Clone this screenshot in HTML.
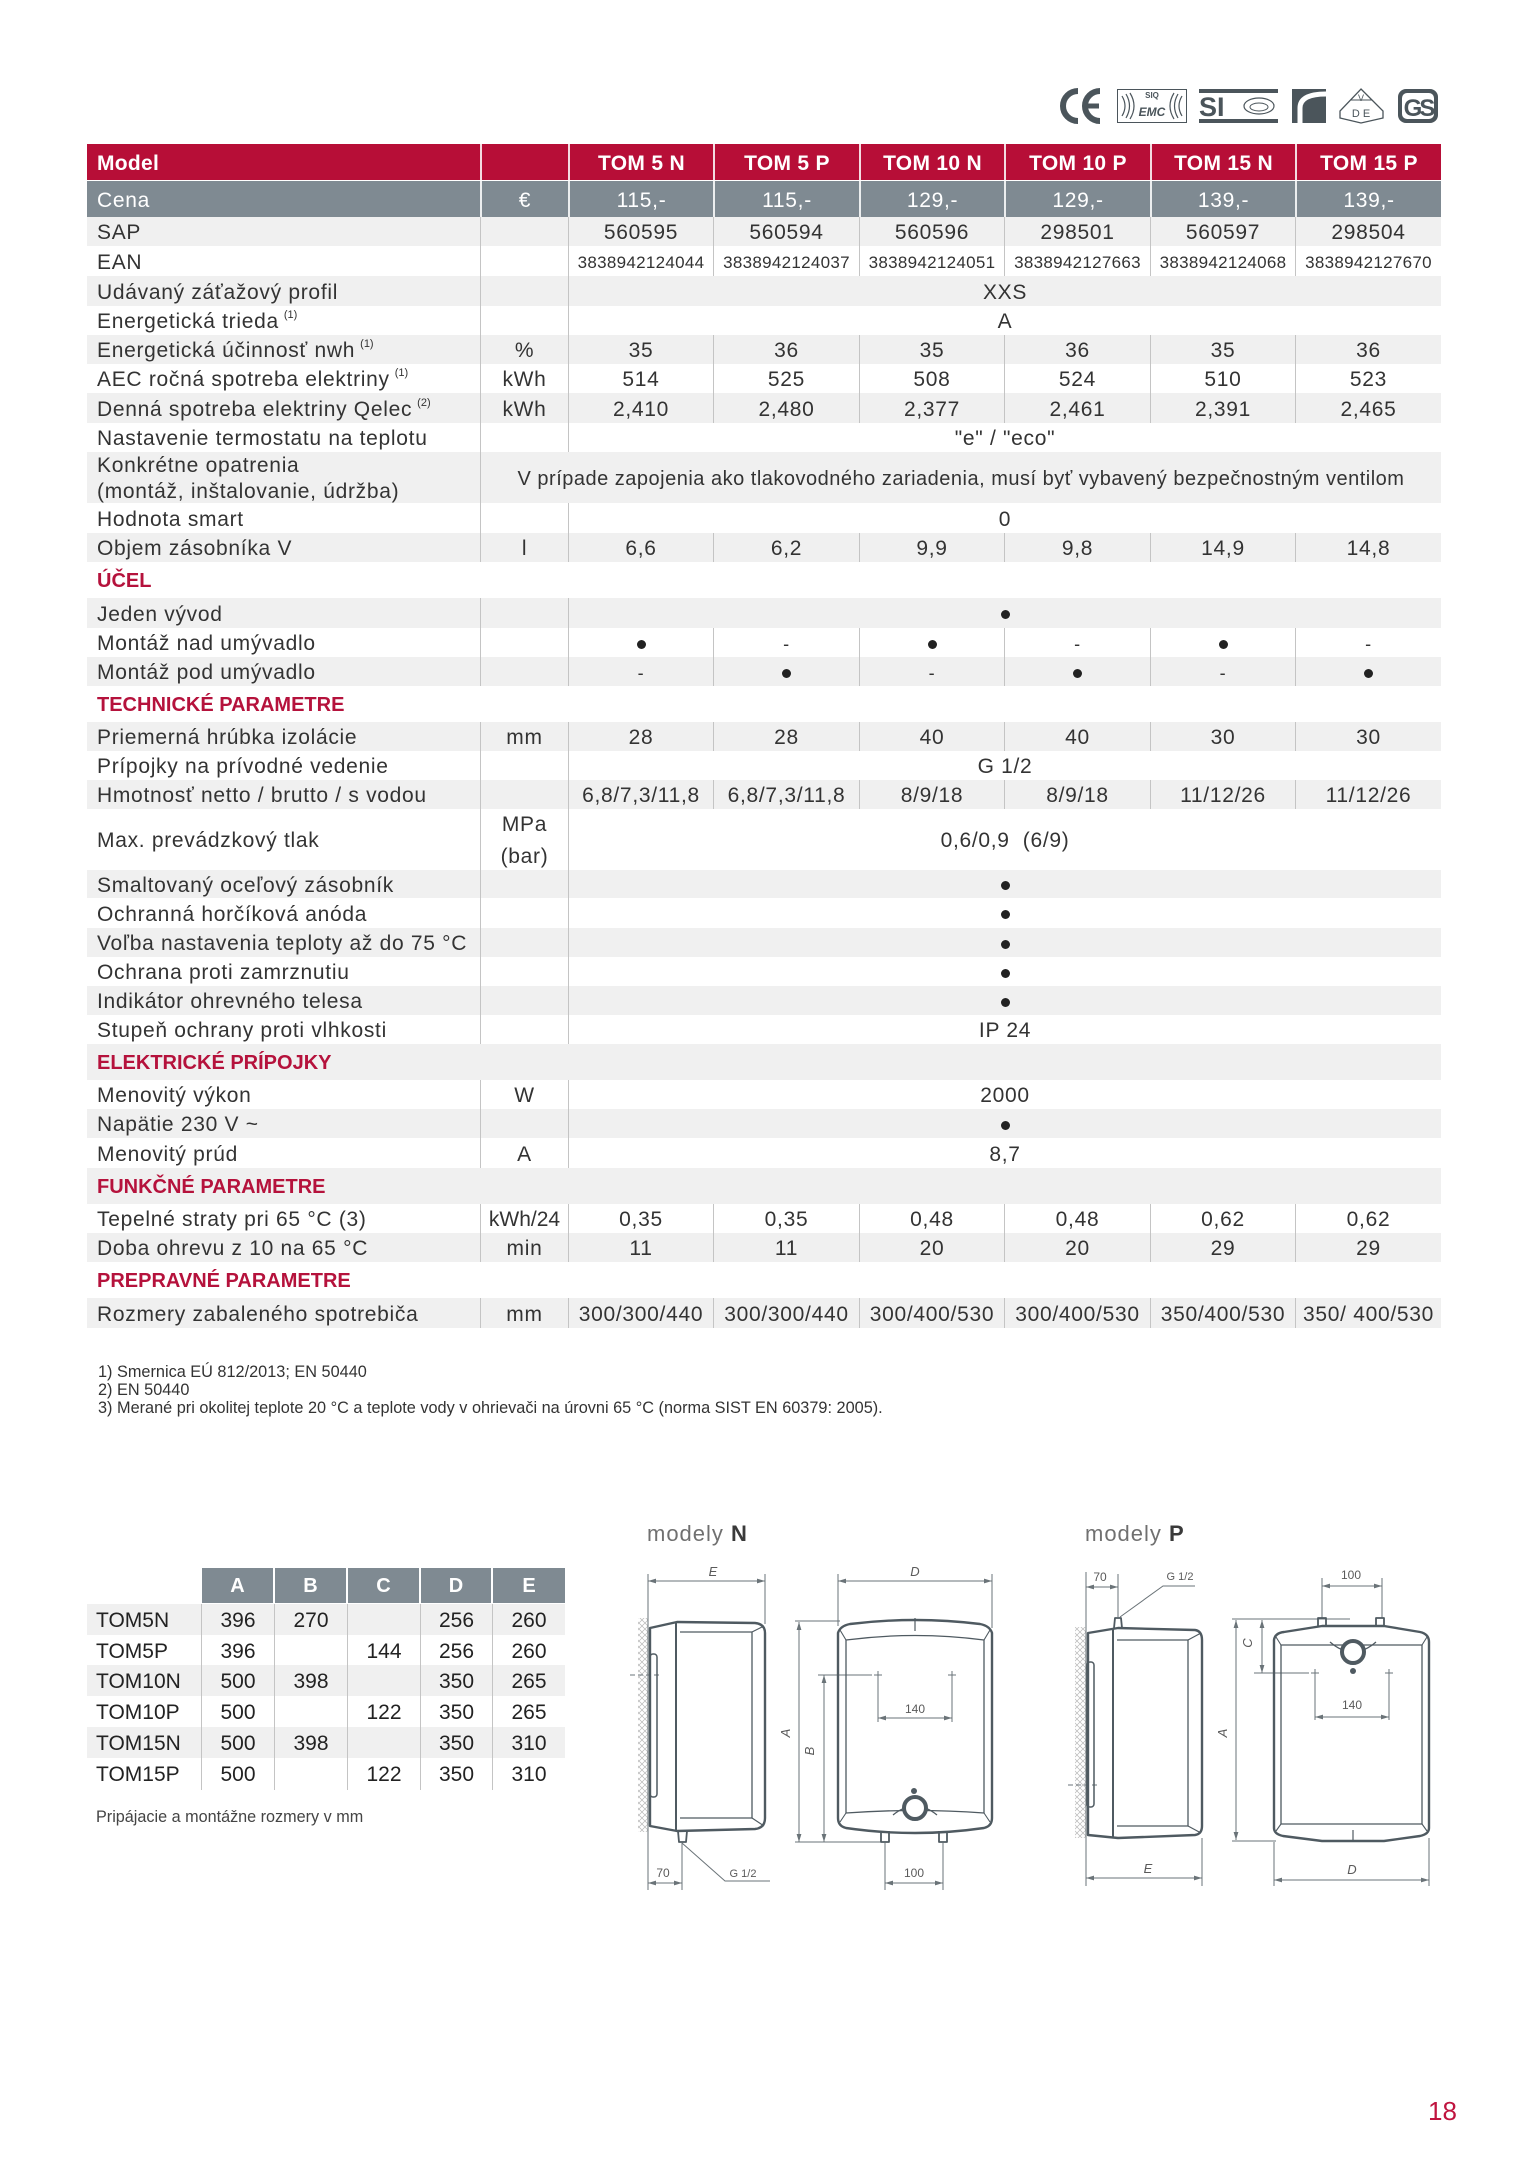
<!DOCTYPE html>
<html><head><meta charset="utf-8">
<style>
*{box-sizing:border-box;margin:0;padding:0}
body{width:1529px;height:2160px;background:#fff;position:relative;overflow:hidden;font-family:"Liberation Sans",sans-serif;color:#333}
.row{position:absolute;left:87px;width:1354px;font-size:21px;letter-spacing:.7px}
.g{background:#f0f0f0}
.row>span{position:absolute;top:0;height:100%;display:flex;align-items:center;justify-content:center;text-align:center;white-space:nowrap;padding-top:3px}
.row>.lb{left:10px;justify-content:flex-start;text-align:left}
.u{left:393px;width:88px}
.c1{left:481px;width:145px}.c2{left:626px;width:146px}.c3{left:772px;width:145px}.c4{left:917px;width:146px}.c5{left:1063px;width:145px}.c6{left:1208px;width:146px}
.sp{left:481px;width:873px}
.bl{border-left:1px solid #c4c4c4}
.hd{background:#b70e37;color:#fff;font-weight:bold;letter-spacing:.3px}
.hd>span.w,.ce>span.w{border-left:2px solid rgba(255,255,255,.85)}
.ce{background:#7f8a92;color:#fff}
.sec>span{color:#b5123c;font-weight:bold;font-size:20px;letter-spacing:0}
.s{font-size:11px;position:relative;top:-7px;margin-left:5px;letter-spacing:0}
.ean{font-size:17px;letter-spacing:.3px}
.dot{display:inline-block;width:9px;height:9px;border-radius:50%;background:#222}
.ds{font-size:18px}
.two{line-height:26px}
.dh{position:absolute;top:1568px;height:35px;background:#7f8a92;color:#fff;font-weight:bold;font-size:20px;display:flex;align-items:center;justify-content:center;padding-top:2px}
.dr{position:absolute;left:87px;width:478px;height:31px}
.dc{position:absolute;height:31px;display:flex;align-items:center;justify-content:center;font-size:21px;color:#222;padding-top:2px}
</style></head><body>

<!-- header -->
<div class="row hd" style="top:144px;height:36px"><span class="lb">Model</span><span class="u w"></span><span class="c1 w">TOM 5 N</span><span class="c2 w">TOM 5 P</span><span class="c3 w">TOM 10 N</span><span class="c4 w">TOM 10 P</span><span class="c5 w">TOM 15 N</span><span class="c6 w">TOM 15 P</span></div>
<div class="row ce" style="top:181px;height:36px"><span class="lb">Cena</span><span class="u w">€</span><span class="c1 w">115,-</span><span class="c2 w">115,-</span><span class="c3 w">129,-</span><span class="c4 w">129,-</span><span class="c5 w">139,-</span><span class="c6 w">139,-</span></div>

<div class="row g" style="top:217px;height:29px"><span class="lb">SAP</span><span class="u bl"></span><span class="c1 bl">560595</span><span class="c2 bl">560594</span><span class="c3 bl">560596</span><span class="c4 bl">298501</span><span class="c5 bl">560597</span><span class="c6 bl">298504</span></div>
<div class="row" style="top:246px;height:30px"><span class="lb">EAN</span><span class="u bl"></span><span class="c1 bl ean">3838942124044</span><span class="c2 bl ean">3838942124037</span><span class="c3 bl ean">3838942124051</span><span class="c4 bl ean">3838942127663</span><span class="c5 bl ean">3838942124068</span><span class="c6 bl ean">3838942127670</span></div>
<div class="row g" style="top:276px;height:30px"><span class="lb">Udávaný záťažový profil</span><span class="u bl"></span><span class="sp bl">XXS</span></div>
<div class="row" style="top:306px;height:29px"><span class="lb">Energetická trieda<span class="s">(1)</span></span><span class="u bl"></span><span class="sp bl">A</span></div>
<div class="row g" style="top:335px;height:29px"><span class="lb">Energetická účinnosť nwh<span class="s">(1)</span></span><span class="u bl">%</span><span class="c1 bl">35</span><span class="c2 bl">36</span><span class="c3 bl">35</span><span class="c4 bl">36</span><span class="c5 bl">35</span><span class="c6 bl">36</span></div>
<div class="row" style="top:364px;height:29px"><span class="lb">AEC ročná spotreba elektriny<span class="s">(1)</span></span><span class="u bl">kWh</span><span class="c1 bl">514</span><span class="c2 bl">525</span><span class="c3 bl">508</span><span class="c4 bl">524</span><span class="c5 bl">510</span><span class="c6 bl">523</span></div>
<div class="row g" style="top:393px;height:30px"><span class="lb">Denná spotreba elektriny Qelec<span class="s">(2)</span></span><span class="u bl">kWh</span><span class="c1 bl">2,410</span><span class="c2 bl">2,480</span><span class="c3 bl">2,377</span><span class="c4 bl">2,461</span><span class="c5 bl">2,391</span><span class="c6 bl">2,465</span></div>
<div class="row" style="top:423px;height:29px"><span class="lb">Nastavenie termostatu na teplotu</span><span class="u bl"></span><span class="sp bl">"e" / "eco"</span></div>
<div class="row g" style="top:452px;height:51px"><span class="lb two">Konkrétne opatrenia<br>(montáž, inštalovanie, údržba)</span><span class="bl" style="left:393px;width:961px;font-size:20px;letter-spacing:.5px">V prípade zapojenia ako tlakovodného zariadenia, musí byť vybavený bezpečnostným ventilom</span></div>
<div class="row" style="top:503px;height:30px"><span class="lb">Hodnota smart</span><span class="u bl"></span><span class="sp bl">0</span></div>
<div class="row g" style="top:533px;height:29px"><span class="lb">Objem zásobníka V</span><span class="u bl">l</span><span class="c1 bl">6,6</span><span class="c2 bl">6,2</span><span class="c3 bl">9,9</span><span class="c4 bl">9,8</span><span class="c5 bl">14,9</span><span class="c6 bl">14,8</span></div>
<div class="row sec" style="top:562px;height:36px"><span class="lb">ÚČEL</span></div>
<div class="row g" style="top:598px;height:30px"><span class="lb">Jeden vývod</span><span class="u bl"></span><span class="sp bl"><i class="dot"></i></span></div>
<div class="row" style="top:628px;height:29px"><span class="lb">Montáž nad umývadlo</span><span class="u bl"></span><span class="c1 bl"><i class="dot"></i></span><span class="c2 bl ds">-</span><span class="c3 bl"><i class="dot"></i></span><span class="c4 bl ds">-</span><span class="c5 bl"><i class="dot"></i></span><span class="c6 bl ds">-</span></div>
<div class="row g" style="top:657px;height:29px"><span class="lb">Montáž pod umývadlo</span><span class="u bl"></span><span class="c1 bl ds">-</span><span class="c2 bl"><i class="dot"></i></span><span class="c3 bl ds">-</span><span class="c4 bl"><i class="dot"></i></span><span class="c5 bl ds">-</span><span class="c6 bl"><i class="dot"></i></span></div>
<div class="row sec" style="top:686px;height:36px"><span class="lb">TECHNICKÉ PARAMETRE</span></div>
<div class="row g" style="top:722px;height:29px"><span class="lb">Priemerná hrúbka izolácie</span><span class="u bl">mm</span><span class="c1 bl">28</span><span class="c2 bl">28</span><span class="c3 bl">40</span><span class="c4 bl">40</span><span class="c5 bl">30</span><span class="c6 bl">30</span></div>
<div class="row" style="top:751px;height:29px"><span class="lb">Prípojky na prívodné vedenie</span><span class="u bl"></span><span class="sp bl">G 1/2</span></div>
<div class="row g" style="top:780px;height:29px"><span class="lb">Hmotnosť netto / brutto / s vodou</span><span class="u bl"></span><span class="c1 bl">6,8/7,3/11,8</span><span class="c2 bl">6,8/7,3/11,8</span><span class="c3 bl">8/9/18</span><span class="c4 bl">8/9/18</span><span class="c5 bl">11/12/26</span><span class="c6 bl">11/12/26</span></div>
<div class="row" style="top:809px;height:61px"><span class="lb">Max. prevádzkový tlak</span><span class="u bl" style="line-height:32px">MPa<br>(bar)</span><span class="sp bl">0,6/0,9&nbsp;&nbsp;(6/9)</span></div>
<div class="row g" style="top:870px;height:28px"><span class="lb">Smaltovaný oceľový zásobník</span><span class="u bl"></span><span class="sp bl"><i class="dot"></i></span></div>
<div class="row" style="top:898px;height:30px"><span class="lb">Ochranná horčíková anóda</span><span class="u bl"></span><span class="sp bl"><i class="dot"></i></span></div>
<div class="row g" style="top:928px;height:29px"><span class="lb">Voľba nastavenia teploty až do 75 °C</span><span class="u bl"></span><span class="sp bl"><i class="dot"></i></span></div>
<div class="row" style="top:957px;height:29px"><span class="lb">Ochrana proti zamrznutiu</span><span class="u bl"></span><span class="sp bl"><i class="dot"></i></span></div>
<div class="row g" style="top:986px;height:29px"><span class="lb">Indikátor ohrevného telesa</span><span class="u bl"></span><span class="sp bl"><i class="dot"></i></span></div>
<div class="row" style="top:1015px;height:29px"><span class="lb">Stupeň ochrany proti vlhkosti</span><span class="u bl"></span><span class="sp bl">IP 24</span></div>
<div class="row sec g" style="top:1044px;height:36px"><span class="lb">ELEKTRICKÉ PRÍPOJKY</span></div>
<div class="row" style="top:1080px;height:29px"><span class="lb">Menovitý výkon</span><span class="u bl">W</span><span class="sp bl">2000</span></div>
<div class="row g" style="top:1109px;height:29px"><span class="lb">Napätie 230 V ~</span><span class="u bl"></span><span class="sp bl"><i class="dot"></i></span></div>
<div class="row" style="top:1138px;height:30px"><span class="lb">Menovitý prúd</span><span class="u bl">A</span><span class="sp bl">8,7</span></div>
<div class="row sec g" style="top:1168px;height:36px"><span class="lb">FUNKČNÉ PARAMETRE</span></div>
<div class="row" style="top:1204px;height:29px"><span class="lb">Tepelné straty pri 65 °C (3)</span><span class="u bl" style="letter-spacing:0">kWh/24</span><span class="c1 bl">0,35</span><span class="c2 bl">0,35</span><span class="c3 bl">0,48</span><span class="c4 bl">0,48</span><span class="c5 bl">0,62</span><span class="c6 bl">0,62</span></div>
<div class="row g" style="top:1233px;height:29px"><span class="lb">Doba ohrevu z 10 na 65 °C</span><span class="u bl">min</span><span class="c1 bl">11</span><span class="c2 bl">11</span><span class="c3 bl">20</span><span class="c4 bl">20</span><span class="c5 bl">29</span><span class="c6 bl">29</span></div>
<div class="row sec" style="top:1262px;height:36px"><span class="lb">PREPRAVNÉ PARAMETRE</span></div>
<div class="row g" style="top:1298px;height:30px"><span class="lb">Rozmery zabaleného spotrebiča</span><span class="u bl">mm</span><span class="c1 bl">300/300/440</span><span class="c2 bl">300/300/440</span><span class="c3 bl">300/400/530</span><span class="c4 bl">300/400/530</span><span class="c5 bl">350/400/530</span><span class="c6 bl">350/ 400/530</span></div>

<!-- footnotes -->
<div style="position:absolute;left:98px;top:1363px;font-size:16.3px;line-height:18px;color:#333">1) Smernica EÚ 812/2013; EN 50440<br>2) EN 50440<br>3) Merané pri okolitej teplote 20 °C a teplote vody v ohrievači na úrovni 65 °C (norma SIST EN 60379: 2005).</div>

<!-- dimension table -->
<div class="dh" style="left:202px;width:71px">A</div>
<div class="dh" style="left:275px;width:71px">B</div>
<div class="dh" style="left:348px;width:71px">C</div>
<div class="dh" style="left:421px;width:70px">D</div>
<div class="dh" style="left:493px;width:72px">E</div>
<div class="dr" style="top:1604px;background:#f0f0f0"></div>
<div class="dr" style="top:1665px;background:#f0f0f0"></div>
<div class="dr" style="top:1727px;background:#f0f0f0"></div>
<div style="position:absolute;left:201px;top:1604px;width:1px;height:186px;background:#c4c4c4"></div>
<div style="position:absolute;left:274px;top:1604px;width:1px;height:186px;background:#c4c4c4"></div>
<div style="position:absolute;left:347px;top:1604px;width:1px;height:186px;background:#c4c4c4"></div>
<div style="position:absolute;left:420px;top:1604px;width:1px;height:186px;background:#c4c4c4"></div>
<div style="position:absolute;left:492px;top:1604px;width:1px;height:186px;background:#c4c4c4"></div>

<div class="dc" style="left:96px;top:1604px;justify-content:flex-start">TOM5N</div>
<div class="dc" style="left:202px;top:1604px;width:72px">396</div><div class="dc" style="left:275px;top:1604px;width:72px">270</div><div class="dc" style="left:421px;top:1604px;width:71px">256</div><div class="dc" style="left:493px;top:1604px;width:72px">260</div>
<div class="dc" style="left:96px;top:1635px;justify-content:flex-start">TOM5P</div>
<div class="dc" style="left:202px;top:1635px;width:72px">396</div><div class="dc" style="left:348px;top:1635px;width:72px">144</div><div class="dc" style="left:421px;top:1635px;width:71px">256</div><div class="dc" style="left:493px;top:1635px;width:72px">260</div>
<div class="dc" style="left:96px;top:1665px;justify-content:flex-start">TOM10N</div>
<div class="dc" style="left:202px;top:1665px;width:72px">500</div><div class="dc" style="left:275px;top:1665px;width:72px">398</div><div class="dc" style="left:421px;top:1665px;width:71px">350</div><div class="dc" style="left:493px;top:1665px;width:72px">265</div>
<div class="dc" style="left:96px;top:1696px;justify-content:flex-start">TOM10P</div>
<div class="dc" style="left:202px;top:1696px;width:72px">500</div><div class="dc" style="left:348px;top:1696px;width:72px">122</div><div class="dc" style="left:421px;top:1696px;width:71px">350</div><div class="dc" style="left:493px;top:1696px;width:72px">265</div>
<div class="dc" style="left:96px;top:1727px;justify-content:flex-start">TOM15N</div>
<div class="dc" style="left:202px;top:1727px;width:72px">500</div><div class="dc" style="left:275px;top:1727px;width:72px">398</div><div class="dc" style="left:421px;top:1727px;width:71px">350</div><div class="dc" style="left:493px;top:1727px;width:72px">310</div>
<div class="dc" style="left:96px;top:1758px;justify-content:flex-start">TOM15P</div>
<div class="dc" style="left:202px;top:1758px;width:72px">500</div><div class="dc" style="left:348px;top:1758px;width:72px">122</div><div class="dc" style="left:421px;top:1758px;width:71px">350</div><div class="dc" style="left:493px;top:1758px;width:72px">310</div>

<div style="position:absolute;left:96px;top:1807px;font-size:16.2px;line-height:20px;color:#444">Pripájacie a montážne rozmery v mm</div>

<div style="position:absolute;left:1428px;top:2096px;font-size:26px;line-height:30px;color:#c0143f">18</div>

<svg style="position:absolute;left:0;top:0" width="1529" height="2160" viewBox="0 0 1529 2160" xmlns="http://www.w3.org/2000/svg">
<defs>
<marker id="ar" viewBox="0 0 10 10" refX="10" refY="5" markerWidth="8" markerHeight="8" orient="auto-start-reverse"><path d="M0,2 L10,5 L0,8z" fill="#6a7378"/></marker>
<pattern id="h" width="6" height="6" patternUnits="userSpaceOnUse"><path d="M0,0 L6,6 M6,0 L0,6" stroke="#b8b8b8" stroke-width=".7"/></pattern>
</defs>

<!-- logos -->
<g fill="none" stroke="#4b555b">
<path d="M1078,91 A15,15 0 0 0 1078,121" stroke-width="6"/>
<path d="M1100,91 A15,15 0 0 0 1100,121" stroke-width="6"/>
<path d="M1088,106 L1099,106" stroke-width="5"/>
<rect x="1117.5" y="89.5" width="69" height="33" stroke-width="1"/>
<path d="M1122,96 Q1128,106 1122,116 M1126,94 Q1133,106 1126,118 M1130,93 Q1138,106 1130,119" stroke-width="1.2"/>
<path d="M1182,96 Q1176,106 1182,116 M1178,94 Q1171,106 1178,118 M1174,93 Q1166,106 1174,119" stroke-width="1.2"/>
<ellipse cx="1259" cy="106" rx="15" ry="8" stroke-width="1.2"/>
<ellipse cx="1259" cy="107" rx="9" ry="4" stroke-width="1"/>
<path d="M1361,89 L1383,111 L1383,118 L1361,123 L1340,118 L1340,111 Z" stroke-width="1.3"/>
<path d="M1350,100 L1372,100" stroke-width="1"/>
</g>
<g fill="#4b555b">
<text x="1152" y="98" font-size="8" font-weight="bold" text-anchor="middle" font-family="Liberation Sans">SIQ</text>
<text x="1152" y="116" font-size="12" font-weight="bold" font-style="italic" text-anchor="middle" font-family="Liberation Sans">EMC</text>
<rect x="1199" y="89" width="79" height="4"/>
<rect x="1199" y="119" width="79" height="4"/>
<text x="1199" y="116" font-size="27" font-weight="bold" font-family="Liberation Sans">SI</text>
<rect x="1292" y="89" width="34" height="34"/>
<text x="1361" y="101" font-size="9" text-anchor="middle" font-family="Liberation Sans">V</text>
<text x="1361" y="117" font-size="11" text-anchor="middle" font-family="Liberation Sans">D E</text>
<rect x="1398" y="89" width="40" height="34" rx="8"/>
<rect x="1402" y="93" width="32" height="26" rx="5" fill="#fff"/>
<text x="1418" y="116" font-size="24" font-weight="bold" text-anchor="middle" font-family="Liberation Sans" letter-spacing="-3">GS</text>
</g>
<path d="M1300,123 L1300,108 Q1300,94 1326,94" fill="none" stroke="#fff" stroke-width="5"/>

<!-- modely labels -->
<text x="647" y="1541" font-size="22" fill="#707070" font-family="Liberation Sans" letter-spacing="1">modely <tspan font-weight="bold" fill="#3a3a3a">N</tspan></text>
<text x="1085" y="1541" font-size="22" fill="#707070" font-family="Liberation Sans" letter-spacing="1">modely <tspan font-weight="bold" fill="#3a3a3a">P</tspan></text>

<!-- ===== Model N ===== -->
<rect x="638" y="1618" width="10" height="214" fill="url(#h)"/>
<g fill="none" stroke="#6a7378" stroke-width="1">
<line x1="648" y1="1574" x2="648" y2="1890"/>
<line x1="765" y1="1574" x2="765" y2="1624"/>
<line x1="648" y1="1581" x2="765" y2="1581" marker-start="url(#ar)" marker-end="url(#ar)"/>
<line x1="682" y1="1843" x2="682" y2="1890"/>
<line x1="648" y1="1883" x2="682" y2="1883" marker-start="url(#ar)" marker-end="url(#ar)"/>
<path d="M682,1843 L725,1881 L770,1881"/>
<path d="M630,1675 L662,1675" stroke-dasharray="5,3"/>
<line x1="838" y1="1574" x2="838" y2="1626"/>
<line x1="992" y1="1574" x2="992" y2="1628"/>
<line x1="838" y1="1581" x2="992" y2="1581" marker-start="url(#ar)" marker-end="url(#ar)"/>
<line x1="795" y1="1621" x2="840" y2="1621"/>
<line x1="795" y1="1842" x2="882" y2="1842"/>
<line x1="799" y1="1622" x2="799" y2="1842" marker-start="url(#ar)" marker-end="url(#ar)"/>
<line x1="818" y1="1675" x2="872" y2="1675"/>
<line x1="824" y1="1675" x2="824" y2="1842" marker-start="url(#ar)" marker-end="url(#ar)"/>
<path d="M874,1675 L882,1675 M878,1671 L878,1679 M948,1675 L956,1675 M952,1671 L952,1679"/>
<line x1="878" y1="1679" x2="878" y2="1722"/>
<line x1="952" y1="1679" x2="952" y2="1722"/>
<line x1="878" y1="1718" x2="952" y2="1718" marker-start="url(#ar)" marker-end="url(#ar)"/>
<line x1="885" y1="1843" x2="885" y2="1890"/>
<line x1="943" y1="1843" x2="943" y2="1890"/>
<line x1="885" y1="1883" x2="943" y2="1883" marker-start="url(#ar)" marker-end="url(#ar)"/>
</g>
<g fill="none" stroke="#4f5a61" stroke-width="2.4" stroke-linejoin="round">
<path d="M650,1628 L677,1622 L755,1623 Q765,1624 765,1633 L765,1818 Q765,1828 755,1829 L677,1831 L650,1826 Z"/>
<path d="M676,1623 L676,1831" stroke-width="2"/>
<path d="M680,1632 L752,1632 L752,1818 L680,1818" stroke-width="1.3"/>
<path d="M752,1632 L764,1626 M752,1818 L764,1826" stroke-width="1.2"/>
<rect x="650" y="1654" width="7" height="143" rx="3" stroke-width="1.5"/>
<path d="M678,1831 L679,1842 L686,1842 L687,1831" stroke-width="1.8"/>
<path d="M838,1633 Q840,1626 850,1624 Q915,1616 980,1624 Q990,1626 992,1633 L992,1818 Q992,1826 984,1828 Q915,1838 846,1828 Q838,1826 838,1818 Z"/>
<path d="M846,1640 Q915,1631 984,1640 L984,1813 Q915,1808 846,1813 Z" stroke-width="1.3"/>
<path d="M846,1640 L840,1630 M984,1640 L990,1630 M846,1813 L840,1822 M984,1813 L990,1822" stroke-width="1.1"/>
<path d="M915,1618 L915,1631" stroke-width="1.2"/>
<path d="M893,1815 Q915,1797 937,1815" stroke-width="1.3"/>
<circle cx="915" cy="1808" r="11" stroke-width="4" fill="#fff"/>
<path d="M881,1831 L881,1842 L889,1842 L889,1831 M939,1831 L939,1842 L947,1842 L947,1831" stroke-width="1.8"/>
</g>
<circle cx="914" cy="1791" r="3" fill="#4f5a61"/>
<g font-family="Liberation Sans" fill="#5a5a5a" font-size="12" text-anchor="middle">
<text x="713" y="1576" font-style="italic" font-size="13">E</text>
<text x="915" y="1576" font-style="italic" font-size="13">D</text>
<text x="663" y="1877">70</text>
<text x="743" y="1877" font-size="11">G 1/2</text>
<text x="915" y="1713">140</text>
<text x="914" y="1877">100</text>
<text x="794" y="1737" font-style="italic" font-size="13" transform="rotate(-90 790 1737)">A</text>
<text x="818" y="1755" font-style="italic" font-size="13" transform="rotate(-90 814 1755)">B</text>
</g>

<!-- ===== Model P ===== -->
<rect x="1075" y="1627" width="11" height="211" fill="url(#h)"/>
<g fill="none" stroke="#6a7378" stroke-width="1">
<line x1="1086" y1="1572" x2="1086" y2="1886"/>
<line x1="1118" y1="1574" x2="1118" y2="1617"/>
<line x1="1086" y1="1587" x2="1118" y2="1587" marker-start="url(#ar)" marker-end="url(#ar)"/>
<path d="M1120,1617 L1163,1586 L1195,1586"/>
<path d="M1068,1785 L1098,1785" stroke-dasharray="5,3"/>
<line x1="1202" y1="1838" x2="1202" y2="1886"/>
<line x1="1086" y1="1878" x2="1202" y2="1878" marker-start="url(#ar)" marker-end="url(#ar)"/>
<line x1="1322" y1="1578" x2="1322" y2="1618"/>
<line x1="1382" y1="1578" x2="1382" y2="1618"/>
<line x1="1322" y1="1586" x2="1382" y2="1586" marker-start="url(#ar)" marker-end="url(#ar)"/>
<line x1="1232" y1="1619" x2="1350" y2="1619"/>
<line x1="1232" y1="1841" x2="1276" y2="1841"/>
<line x1="1236" y1="1620" x2="1236" y2="1840" marker-start="url(#ar)" marker-end="url(#ar)"/>
<line x1="1262" y1="1620" x2="1262" y2="1673" marker-start="url(#ar)" marker-end="url(#ar)"/>
<line x1="1254" y1="1673" x2="1309" y2="1673"/>
<path d="M1311,1673 L1319,1673 M1315,1669 L1315,1677 M1385,1673 L1393,1673 M1389,1669 L1389,1677"/>
<line x1="1315" y1="1677" x2="1315" y2="1720"/>
<line x1="1389" y1="1677" x2="1389" y2="1720"/>
<line x1="1315" y1="1717" x2="1389" y2="1717" marker-start="url(#ar)" marker-end="url(#ar)"/>
<line x1="1274" y1="1842" x2="1274" y2="1886"/>
<line x1="1429" y1="1838" x2="1429" y2="1886"/>
<line x1="1274" y1="1880" x2="1429" y2="1880" marker-start="url(#ar)" marker-end="url(#ar)"/>
</g>
<g fill="none" stroke="#4f5a61" stroke-width="2.4" stroke-linejoin="round">
<path d="M1088,1633 L1118,1628 L1195,1630 Q1202,1631 1202,1640 L1202,1826 Q1202,1834 1195,1835 L1118,1838 L1088,1835 Z"/>
<path d="M1113,1629 L1113,1837" stroke-width="2"/>
<path d="M1117,1640 L1188,1640 L1188,1826 L1117,1826" stroke-width="1.3"/>
<path d="M1188,1640 L1201,1633 M1188,1826 L1201,1833" stroke-width="1.2"/>
<rect x="1087" y="1662" width="7" height="145" rx="3" stroke-width="1.5"/>
<path d="M1114,1628 L1115,1618 L1121,1618 L1122,1628" stroke-width="1.8"/>
<path d="M1274,1640 Q1275,1633 1284,1632 L1322,1626 L1384,1626 L1420,1632 Q1429,1634 1429,1642 L1429,1828 Q1429,1834 1420,1836 L1384,1841 L1322,1841 L1283,1836 Q1274,1834 1274,1828 Z"/>
<path d="M1281,1645 L1422,1645 L1422,1824 L1281,1824 Z" stroke-width="1.3"/>
<path d="M1281,1645 L1276,1637 M1422,1645 L1427,1637 M1281,1824 L1276,1831 M1422,1824 L1427,1831" stroke-width="1.1"/>
<path d="M1353,1830 L1353,1842" stroke-width="1.2"/>
<path d="M1330,1642 Q1353,1662 1376,1642" stroke-width="1.3"/>
<circle cx="1353" cy="1652" r="11" stroke-width="4" fill="#fff"/>
<path d="M1318,1627 L1318,1618 L1326,1618 L1326,1627 M1376,1627 L1376,1618 L1384,1618 L1384,1627" stroke-width="1.8"/>
</g>
<circle cx="1353" cy="1671" r="3" fill="#4f5a61"/>
<g font-family="Liberation Sans" fill="#5a5a5a" font-size="12" text-anchor="middle">
<text x="1100" y="1581">70</text>
<text x="1180" y="1580" font-size="11">G 1/2</text>
<text x="1351" y="1579">100</text>
<text x="1352" y="1709">140</text>
<text x="1148" y="1873" font-style="italic" font-size="13">E</text>
<text x="1352" y="1874" font-style="italic" font-size="13">D</text>
<text x="1231" y="1737" font-style="italic" font-size="13" transform="rotate(-90 1227 1737)">A</text>
<text x="1256" y="1647" font-style="italic" font-size="13" transform="rotate(-90 1252 1647)">C</text>
</g>
</svg>
</body></html>
